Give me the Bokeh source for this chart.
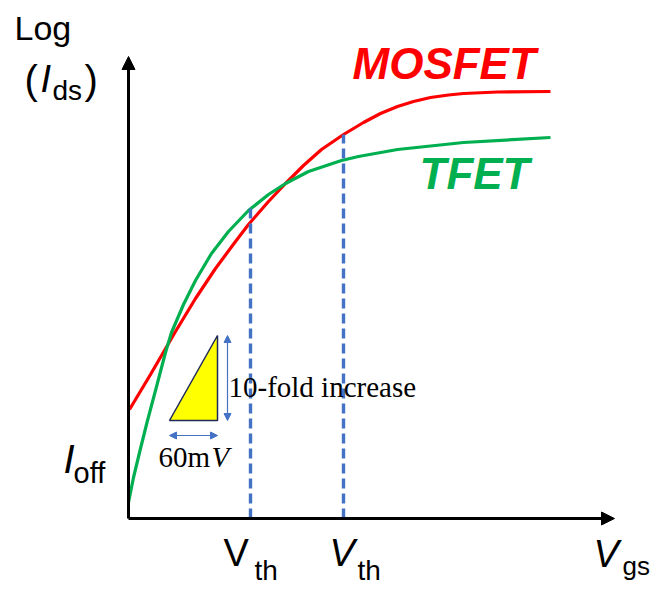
from bokeh.plotting import figure
from bokeh.models import Range1d, Arrow, NormalHead
from bokeh.core.properties import value
from bokeh.embed import file_html
from bokeh.resources import INLINE

# ---- data (schematic units: Vgs along x, log(Ids) along y, origin at axes corner)
vgs_mosfet = [1, 22, 47, 67, 87, 107, 120, 140, 157, 175, 193, 215, 235, 252, 269, 285, 302, 320, 335, 369, 422]
logid_mosfet = [109, 144, 187, 220, 250, 277, 294, 317, 335, 353, 369, 384, 396, 405, 412, 417, 421, 423.5, 425, 426.5, 427]
vgs_tfet = [0, 5, 12, 19, 27, 37, 43, 55, 67, 83, 100, 120, 140, 157, 180, 213, 230, 269, 335, 422]
logid_tfet = [16, 41, 70, 98, 128, 166, 186, 214, 238, 265, 287, 308, 324, 335, 347, 358, 362, 369, 376, 381]
vth_tfet = 122
vth_tfet_top = 311
vth_mosfet = 215
vth_mosfet_top = 384
ss_x0 = 41        # start of 60 mV step
ss_dx = 48        # 60 mV
ss_dy = 85        # 10-fold increase
series_names = ["MOSFET", "TFET"]

RED = "#FF0000"
GREEN = "#00B050"
BLUE = "#4472C4"
SANS = value("Liberation Sans")
SERIF = value("Liberation Serif")

p = figure(width=652, height=591, output_backend="svg", toolbar_location=None,
           x_range=Range1d(-128, 524), y_range=Range1d(-73, 518),
           min_border=0, outline_line_color=None)
p.axis.visible = False
p.grid.visible = False
p.background_fill_color = "white"

# curves
p.line(vgs_mosfet, logid_mosfet, line_color=RED, line_width=3.2)
p.line(vgs_tfet, logid_tfet, line_color=GREEN, line_width=3.2)

# threshold dashed lines
p.segment(x0=[vth_tfet, vth_mosfet], y0=[0, 0], x1=[vth_tfet, vth_mosfet],
          y1=[vth_tfet_top, vth_mosfet_top], line_color=BLUE, line_width=3.4,
          line_dash="10 5")

# axes with arrows
p.add_layout(Arrow(end=NormalHead(size=13, fill_color="black", line_color="black"),
                   x_start=0, y_start=0, x_end=0, y_end=462, line_width=3, line_color="black"))
p.add_layout(Arrow(end=NormalHead(size=13, fill_color="black", line_color="black"),
                   x_start=0, y_start=0, x_end=486, y_end=0, line_width=3, line_color="black"))

# subthreshold slope triangle
p.patch([ss_x0, ss_x0 + ss_dx, ss_x0 + ss_dx], [98, 98, 98 + ss_dy],
        fill_color="#FFFF00", line_color="#1F2A5A", line_width=1.5)
hd = dict(size=7, fill_color=BLUE, line_color=BLUE)
p.add_layout(Arrow(start=NormalHead(**hd), end=NormalHead(**hd),
                   x_start=ss_x0 + ss_dx + 10, y_start=98, x_end=ss_x0 + ss_dx + 10, y_end=98 + ss_dy,
                   line_color=BLUE, line_width=1.2))
p.add_layout(Arrow(start=NormalHead(**hd), end=NormalHead(**hd),
                   x_start=ss_x0, y_start=83, x_end=ss_x0 + ss_dx, y_end=83,
                   line_color=BLUE, line_width=1.2))


def txt(x, y, s, size, font=SANS, style="normal", color="black"):
    px = float(size.replace("px", ""))
    p.text(x=[x], y=[y + 0.36 * px], text=[s], text_font=font, text_font_size=size,
           text_font_style=style, text_color=color, text_baseline="alphabetic",
           text_align="left")


# y label
txt(-114, 478, "Log", "34px")
txt(-104, 424, "(", "40px")
txt(-88, 426, "I", "38px", style="italic")
txt(-76, 418, "ds", "28px")
txt(-44, 424, ")", "40px")

# series names
txt(224, 439, series_names[0], "44px", style="bold italic", color=RED)
txt(291, 329, series_names[1], "44px", style="bold italic", color=GREEN)

# slope annotation
txt(100, 121, "10-fold increase", "29px", font=SERIF)
txt(30, 51, "60m", "29px", font=SERIF)
txt(83, 51, "V", "29px", font=SERIF, style="italic")

# I_off
txt(-65, 45, "I", "40px", style="italic")
txt(-55, 35, "off", "29px")

# x labels
txt(95, -48, "V", "38px")
txt(126, -62, "th", "28px")
txt(201, -48, "V", "38px", style="italic")
txt(229, -62, "th", "28px")
txt(465, -49, "V", "38px", style="italic")
txt(494, -57, "gs", "26px")

open("out.html", "w").write(file_html(p, INLINE))
